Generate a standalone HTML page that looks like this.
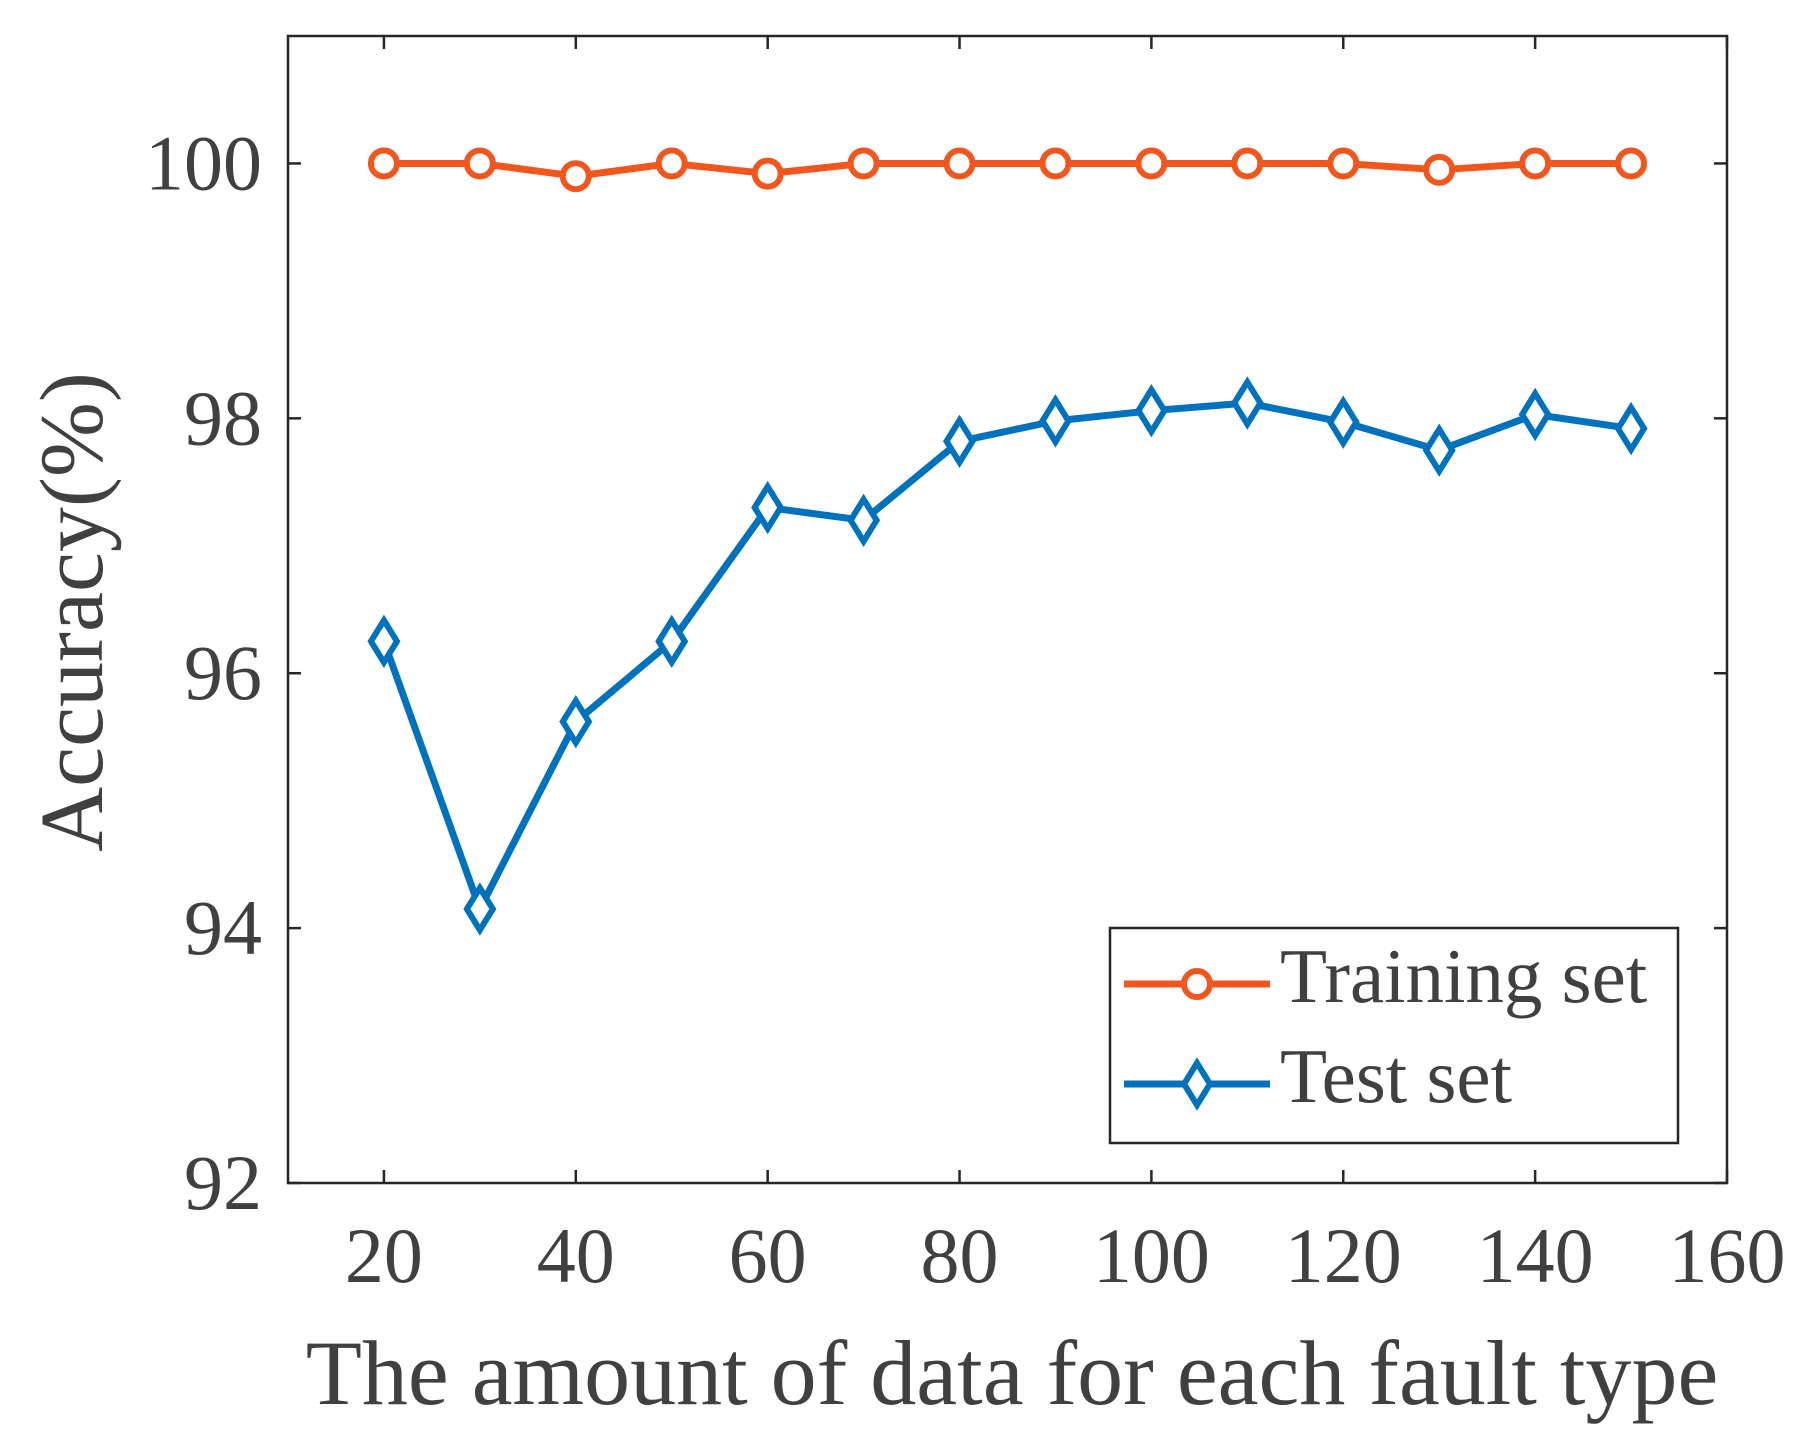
<!DOCTYPE html>
<html><head><meta charset="utf-8"><style>
html,body{margin:0;padding:0;background:#fff;}
svg{display:block;}
text{font-family:"Liberation Serif",serif;fill:#404040;}
</style></head><body>
<svg id="chart" width="1804" height="1448" viewBox="0 0 1804 1448" xmlns="http://www.w3.org/2000/svg">
<rect width="1804" height="1448" fill="#fff"/>
<g id="grid"></g>
<g id="series"></g>
<g id="legend"></g>
</svg>
<script>
const xValues=[20,30,40,50,60,70,80,90,100,110,120,130,140,150];
const trainValues=[100,100,99.9,100,99.92,100,100,100,100,100,100,99.95,100,100];
const testValues=[96.25,94.15,95.62,96.25,97.3,97.2,97.82,97.98,98.06,98.12,97.97,97.75,98.03,97.92];
const xTicks=[20,40,60,80,100,120,140,160];
const yTicks=[92,94,96,98,100];

const NS="http://www.w3.org/2000/svg";
const L=288,R=1727,T=36,B=1183;
const X0=10,X1=160,Y0=92,Y1=101;
function sx(v){return L+(v-X0)/(X1-X0)*(R-L);}
function sy(v){return B-(v-Y0)/(Y1-Y0)*(B-T);}
function mk(tag,attrs,parent){const e=document.createElementNS(NS,tag);for(const k in attrs)e.setAttribute(k,attrs[k]);parent.appendChild(e);return e;}
const g=document.getElementById('grid');
const s=document.getElementById('series');
const lg=document.getElementById('legend');

const frame=mk('rect',{x:L,y:T,width:R-L,height:B-T,fill:'none',stroke:'#262626','stroke-width':2.5},g);



xTicks.forEach(v=>{
  const x=sx(v);
  const t1=mk('line',{x1:x,y1:B,x2:x,y2:B-13,stroke:'#262626','stroke-width':2.5},g);
  
  
  const t2=mk('line',{x1:x,y1:T,x2:x,y2:T+13,stroke:'#262626','stroke-width':2.5},g);
  
  
  const tx=mk('text',{x:x,y:1282,'text-anchor':'middle','font-size':78},g);
  tx.textContent=v;
  
  
});
yTicks.forEach(v=>{
  const y=sy(v);
  const t1=mk('line',{x1:L,y1:y,x2:L+13,y2:y,stroke:'#262626','stroke-width':2.5},g);
  
  
  const t2=mk('line',{x1:R,y1:y,x2:R-13,y2:y,stroke:'#262626','stroke-width':2.5},g);
  
  
  const tx=mk('text',{x:262,y:y+26,'text-anchor':'end','font-size':78},g);
  tx.textContent=v;
  
  
});
const xt=mk('text',{x:1012,y:1404,'text-anchor':'middle','font-size':92},g);
xt.textContent='The amount of data for each fault type';


const yt=mk('text',{x:0,y:0,'text-anchor':'middle','font-size':90,transform:'translate(102,612) rotate(-90)'},g);
yt.textContent='Accuracy(%)';



const ORANGE='#F0561E',BLUE='#0072BD';
function circle(cx,cy,parent){return mk('circle',{cx:cx,cy:cy,r:13,fill:'#fff',stroke:ORANGE,'stroke-width':6},parent);}
function diamond(cx,cy,parent){return mk('polygon',{points:`${cx},${cy-21} ${cx+13},${cy} ${cx},${cy+21} ${cx-13},${cy}`,fill:'#fff',stroke:BLUE,'stroke-width':6},parent);}

const p1=mk('polyline',{points:xValues.map((x,i)=>sx(x)+','+sy(trainValues[i])).join(' '),fill:'none',stroke:ORANGE,'stroke-width':7,'stroke-linejoin':'round'},s);


xValues.forEach((x,i)=>{const c=circle(sx(x),sy(trainValues[i]),s);
  
  });
const p2=mk('polyline',{points:xValues.map((x,i)=>sx(x)+','+sy(testValues[i])).join(' '),fill:'none',stroke:BLUE,'stroke-width':7,'stroke-linejoin':'round'},s);


xValues.forEach((x,i)=>{const d=diamond(sx(x),sy(testValues[i]),s);
  
  });

const box=mk('rect',{x:1110,y:928,width:568,height:215,fill:'#fff',stroke:'#262626','stroke-width':2.5},lg);


const l1=mk('line',{x1:1124,y1:984,x2:1270,y2:984,stroke:ORANGE,'stroke-width':7},lg);


const m1=circle(1197,984,lg);


const t1=mk('text',{x:1280,y:1002,'font-size':77},lg);
t1.textContent='Training set';


const l2=mk('line',{x1:1124,y1:1084,x2:1270,y2:1084,stroke:BLUE,'stroke-width':7},lg);


const m2=diamond(1197,1084,lg);


const t2=mk('text',{x:1280,y:1102,'font-size':77},lg);
t2.textContent='Test set';


</script>
</body></html>
